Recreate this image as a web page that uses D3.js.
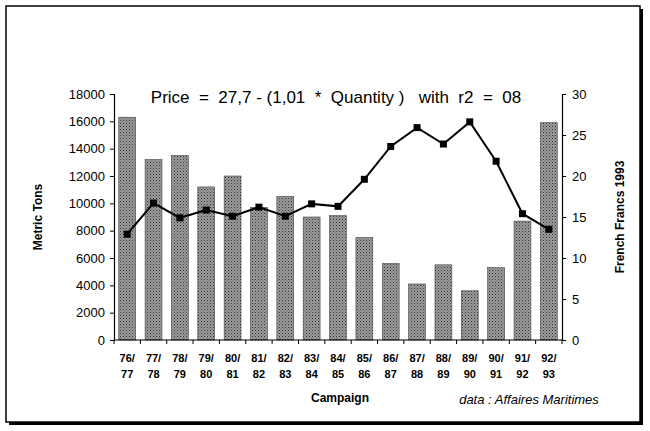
<!DOCTYPE html>
<html><head><meta charset="utf-8">
<script src="https://cdn.jsdelivr.net/npm/d3@7"></script>
<style>body{margin:0;background:#fff}text{font-family:"Liberation Sans",Arial,sans-serif}</style>
</head><body><svg id="c" width="650" height="431"></svg>
<script>
const campaigns = ["76/77","77/78","78/79","79/80","80/81","81/82","82/83","83/84","84/85","85/86","86/87","87/88","88/89","89/90","90/91","91/92","92/93"];
const tons = [16300,13200,13500,11200,12000,9700,10500,9000,9100,7500,5600,4100,5500,3600,5300,8700,15900];
const price = [12.9,16.7,14.9,15.85,15.1,16.2,15.1,16.6,16.3,19.6,23.6,25.9,23.9,26.6,21.8,15.4,13.5];
const leftTicks = d3.range(0, 18001, 2000);
const rightTicks = d3.range(0, 31, 5);

const svg = d3.select("#c");
const m = {l:114, r:562, t:94, b:340};

// frame with shadow
svg.append("rect").attr("x",9).attr("y",9).attr("width",634).attr("height",416).attr("fill","#000");
svg.append("rect").attr("x",6).attr("y",6).attr("width",634).attr("height",416).attr("fill","#fff").attr("stroke","#000").attr("stroke-width",1.5);

const defs = svg.append("defs");
const pat = defs.append("pattern").attr("id","dots").attr("width",3).attr("height",3).attr("patternUnits","userSpaceOnUse");
pat.append("rect").attr("width",3).attr("height",3).attr("fill","#9c9c9c");
pat.append("rect").attr("width",1).attr("height",1).attr("fill","#333");
pat.append("rect").attr("x",1.5).attr("y",1.5).attr("width",1).attr("height",1).attr("fill","#555");

const x = d3.scaleBand().domain(campaigns).range([m.l, m.r]).paddingInner(0.36).paddingOuter(0.18);
const yL = d3.scaleLinear().domain([0,18000]).range([m.b, m.t]);
const yR = d3.scaleLinear().domain([0,30]).range([m.b, m.t]);

svg.append("g").selectAll("rect").data(tons).join("rect")
  .attr("x",(d,i)=>x(campaigns[i])).attr("width",x.bandwidth())
  .attr("y",d=>yL(d)).attr("height",d=>m.b-yL(d))
  .attr("fill","url(#dots)").attr("stroke","#444").attr("stroke-width",0.6);

const line = d3.line().x((d,i)=>x(campaigns[i])+x.bandwidth()/2).y(d=>yR(d));
svg.append("path").datum(price).attr("d",line).attr("fill","none").attr("stroke","#000").attr("stroke-width",2);
svg.append("g").selectAll("rect").data(price).join("rect")
  .attr("x",(d,i)=>x(campaigns[i])+x.bandwidth()/2-3.5).attr("y",d=>yR(d)-3.5)
  .attr("width",7).attr("height",7).attr("fill","#000");

const fmt = d=>d;
const gl = svg.append("g").attr("transform",`translate(${m.l},0)`)
  .call(d3.axisLeft(yL).tickValues(leftTicks).tickSize(4).tickFormat(fmt));
const gr = svg.append("g").attr("transform",`translate(${m.r},0)`)
  .call(d3.axisRight(yR).tickValues(rightTicks).tickSize(4).tickFormat(fmt));
[gl,gr].forEach(g=>{g.select(".domain").attr("stroke-width",1.2);
  g.selectAll("text").attr("font-size",13).attr("fill","#000");});
gl.selectAll("text").attr("x",-9);
gr.selectAll("text").attr("x",10);

// x axis
svg.append("line").attr("x1",m.l).attr("x2",m.r).attr("y1",m.b).attr("y2",m.b).attr("stroke","#000").attr("stroke-width",1.2);
const step = x.step();
const x0 = x(campaigns[0]) - x.paddingInner()*step/2;
svg.append("g").selectAll("line").data(d3.range(campaigns.length+1)).join("line")
  .attr("x1",i=>x0+i*step).attr("x2",i=>x0+i*step)
  .attr("y1",m.b).attr("y2",m.b+4).attr("stroke","#000");
const xl = svg.append("g").selectAll("text").data(campaigns).join("text")
  .attr("x",d=>x(d)+x.bandwidth()/2).attr("text-anchor","middle")
  .attr("font-size",11).attr("font-weight","bold");
xl.append("tspan").attr("x",d=>x(d)+x.bandwidth()/2).attr("y",362).text(d=>d.split("/")[0]+"/");
xl.append("tspan").attr("x",d=>x(d)+x.bandwidth()/2).attr("y",378).text(d=>d.split("/")[1]);

svg.append("text").attr("x",336).attr("y",103).attr("text-anchor","middle").attr("font-size",17)
  .attr("xml:space","preserve").text("Price  =  27,7 - (1,01  *  Quantity )   with  r2  =  08");
svg.append("text").attr("transform","translate(42,217) rotate(-90)").attr("text-anchor","middle")
  .attr("font-size",12).attr("font-weight","bold").text("Metric Tons");
svg.append("text").attr("transform","translate(624,217) rotate(-90)").attr("text-anchor","middle")
  .attr("font-size",12).attr("font-weight","bold").text("French Francs 1993");
svg.append("text").attr("x",340).attr("y",402).attr("text-anchor","middle")
  .attr("font-size",12).attr("font-weight","bold").text("Campaign");
svg.append("text").attr("x",529).attr("y",404).attr("text-anchor","middle")
  .attr("font-size",13).attr("font-style","italic").text("data : Affaires Maritimes");
</script></body></html>
